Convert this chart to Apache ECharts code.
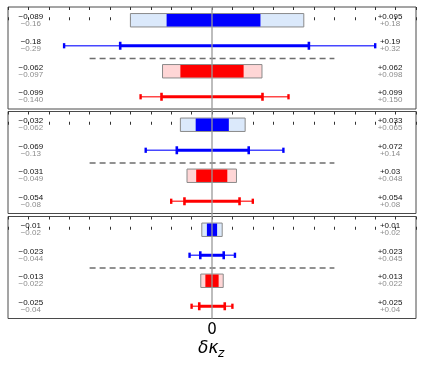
<!DOCTYPE html>
<html><head><meta charset="utf-8">
<script src="https://cdn.jsdelivr.net/npm/echarts@6/dist/echarts.min.js"></script>
<style>html,body{margin:0;padding:0;background:#fff}#c{width:424px;height:371px}</style>
</head><body><div id="c"></div>
<script>
// ---- data ----
const rowKinds = ['box', 'errorbar', 'box', 'errorbar'];
const rowColors = ['blue', 'blue', 'red', 'red'];
const sigma1Low  = [[-0.089, -0.18, -0.062, -0.099], [-0.032, -0.069, -0.031, -0.054], [-0.01, -0.023, -0.013, -0.025]];
const sigma1High = [[0.095, 0.19, 0.062, 0.099], [0.033, 0.072, 0.03, 0.054], [0.01, 0.023, 0.013, 0.025]];
const sigma2Low  = [[-0.16, -0.29, -0.097, -0.140], [-0.062, -0.13, -0.049, -0.08], [-0.02, -0.044, -0.022, -0.04]];
const sigma2High = [[0.18, 0.32, 0.098, 0.150], [0.065, 0.14, 0.048, 0.08], [0.02, 0.045, 0.022, 0.04]];
const sigma1LowText  = [['−0.089', '−0.18', '−0.062', '−0.099'], ['−0.032', '−0.069', '−0.031', '−0.054'], ['−0.01', '−0.023', '−0.013', '−0.025']];
const sigma2LowText  = [['−0.16', '−0.29', '−0.097', '−0.140'], ['−0.062', '−0.13', '−0.049', '−0.08'], ['−0.02', '−0.044', '−0.022', '−0.04']];
const sigma1HighText = [['+0.095', '+0.19', '+0.062', '+0.099'], ['+0.033', '+0.072', '+0.03', '+0.054'], ['+0.01', '+0.023', '+0.013', '+0.025']];
const sigma2HighText = [['+0.18', '+0.32', '+0.098', '+0.150'], ['+0.065', '+0.14', '+0.048', '+0.08'], ['+0.02', '+0.045', '+0.022', '+0.04']];
const xTickLabels = ['0'];
const dashedExtent = [-0.24, 0.24];
const axisTitle = ['δκ', 'z'];

// ---- styling ----
const palette = {
  blue: { dark: '#0000ff', light: '#dbe9fb', thin: 'rgba(0,0,255,0.72)' },
  red:  { dark: '#ff0000', light: '#ffd6d6', thin: 'rgba(255,0,0,0.72)' }
};
const gridTops = [7, 111.5, 216.5];
const gridH = 102;
const FONT = 'Liberation Sans, Arial, sans-serif';

function rowRenderer(panel) {
  return function (params, api) {
    const i = params.dataIndex;
    const r = api.value(0);
    const lo1 = api.value(1), hi1 = api.value(2), lo2 = api.value(3), hi2 = api.value(4);
    const y = api.coord([0, r])[1];
    const X = v => api.coord([v, r])[0];
    const cs = params.coordSys;
    const col = palette[rowColors[i]];
    const ch = [];
    if (rowKinds[i] === 'box') {
      const h = 13.4;
      ch.push({ type: 'rect', shape: { x: X(lo2), y: y - h / 2, width: X(hi2) - X(lo2), height: h },
        style: { fill: col.light, stroke: '#8a8a8a', lineWidth: 1 } });
      ch.push({ type: 'rect', shape: { x: X(lo1), y: y - h / 2 + 0.5, width: X(hi1) - X(lo1), height: h - 1 },
        style: { fill: col.dark } });
    } else {
      ch.push({ type: 'line', shape: { x1: X(lo2), y1: y, x2: X(hi2), y2: y }, style: { stroke: col.thin, lineWidth: 1.3 } });
      [lo2, hi2].forEach(v => ch.push({ type: 'rect', shape: { x: X(v) - 1.2, y: y - 2.6, width: 2.4, height: 5.2 }, style: { fill: col.dark } }));
      ch.push({ type: 'line', shape: { x1: X(lo1), y1: y, x2: X(hi1), y2: y }, style: { stroke: col.dark, lineWidth: 3 } });
      [lo1, hi1].forEach(v => ch.push({ type: 'rect', shape: { x: X(v) - 1.3, y: y - 4, width: 2.6, height: 8 }, style: { fill: col.dark } }));
    }
    const lx = cs.x + 22.8, rx = cs.x + cs.width - 26;
    const t = (x, yy, text, fill) => ({ type: 'text', x: x, y: yy,
      style: { text: text, fill: fill, font: '8px ' + FONT, align: 'center', verticalAlign: 'middle' } });
    ch.push(t(lx, y - 3.7, sigma1LowText[panel][i], '#111'));
    ch.push(t(lx, y + 3.3, sigma2LowText[panel][i], '#8c8c8c'));
    ch.push(t(rx, y - 3.7, sigma1HighText[panel][i], '#111'));
    ch.push(t(rx, y + 3.3, sigma2HighText[panel][i], '#8c8c8c'));
    return { type: 'group', children: ch };
  };
}

const grid = [], xAxis = [], yAxis = [], series = [];
gridTops.forEach((top, p) => {
  grid.push({ left: 8, width: 408, top: top, height: gridH, show: true, borderColor: '#4a4a4a', borderWidth: 1, backgroundColor: 'transparent' });
  const base = { gridIndex: p, type: 'value', min: -0.4, max: 0.4, interval: 0.04,
    axisLine: { show: false }, splitLine: { show: false },
    axisTick: { show: true, inside: true, length: 3, lineStyle: { color: '#333', width: 1 } } };
  xAxis.push(Object.assign({}, base, { position: 'bottom',
    axisLabel: { show: p === gridTops.length - 1, margin: 4, fontSize: 15, color: '#000', fontFamily: 'DejaVu Sans',
      formatter: v => (Math.abs(v) < 1e-9 ? xTickLabels[0] : '') } }));
  xAxis.push(Object.assign({}, base, { position: 'top', axisLabel: { show: false } }));
  yAxis.push({ gridIndex: p, type: 'value', min: -0.52, max: 3.48, inverse: true, show: false });

  const rows = rowKinds.map((k, i) => [i, sigma1Low[p][i], sigma1High[p][i], sigma2Low[p][i], sigma2High[p][i]]);
  series.push({ type: 'custom', xAxisIndex: p * 2, yAxisIndex: p, clip: false, silent: true, z: 2,
    renderItem: rowRenderer(p), encode: { x: [1, 2, 3, 4], y: 0 }, data: rows });
  series.push({ type: 'custom', xAxisIndex: p * 2, yAxisIndex: p, clip: false, silent: true, z: 1,
    renderItem: (params, api) => {
      const a = api.coord([api.value(0), 1.5]), b = api.coord([api.value(1), 1.5]);
      return { type: 'line', shape: { x1: a[0], y1: a[1], x2: b[0], y2: b[1] }, style: { stroke: '#6e6e6e', lineWidth: 1.4, lineDash: [6, 4] } };
    }, encode: { x: [0, 1] }, data: [[dashedExtent[0], dashedExtent[1]]] });
  series.push({ type: 'custom', xAxisIndex: p * 2, yAxisIndex: p, clip: false, silent: true, z: 5,
    renderItem: (params, api) => {
      const cs = params.coordSys;
      const x = api.coord([api.value(0), 0])[0];
      const t = cs.y - (p > 0 ? 1.5 : 0), bt = cs.y + cs.height + (p < gridTops.length - 1 ? 1.5 : 0);
      return { type: 'line', shape: { x1: x, y1: t, x2: x, y2: bt }, style: { stroke: '#9a9a9a', lineWidth: 1.3 } };
    }, encode: { x: 0 }, data: [[0]] });
});

const chart = echarts.init(document.getElementById('c'), null, { renderer: 'canvas' });
chart.setOption({
  animation: false,
  grid, xAxis, yAxis, series,
  graphic: [
    { type: 'text', left: 198, top: 340, style: { text: axisTitle[0], font: 'italic 17px DejaVu Sans', fill: '#000' } },
    { type: 'text', left: 218, top: 348, style: { text: axisTitle[1], font: 'italic 12px DejaVu Sans', fill: '#000' } }
  ]
});
</script></body></html>
